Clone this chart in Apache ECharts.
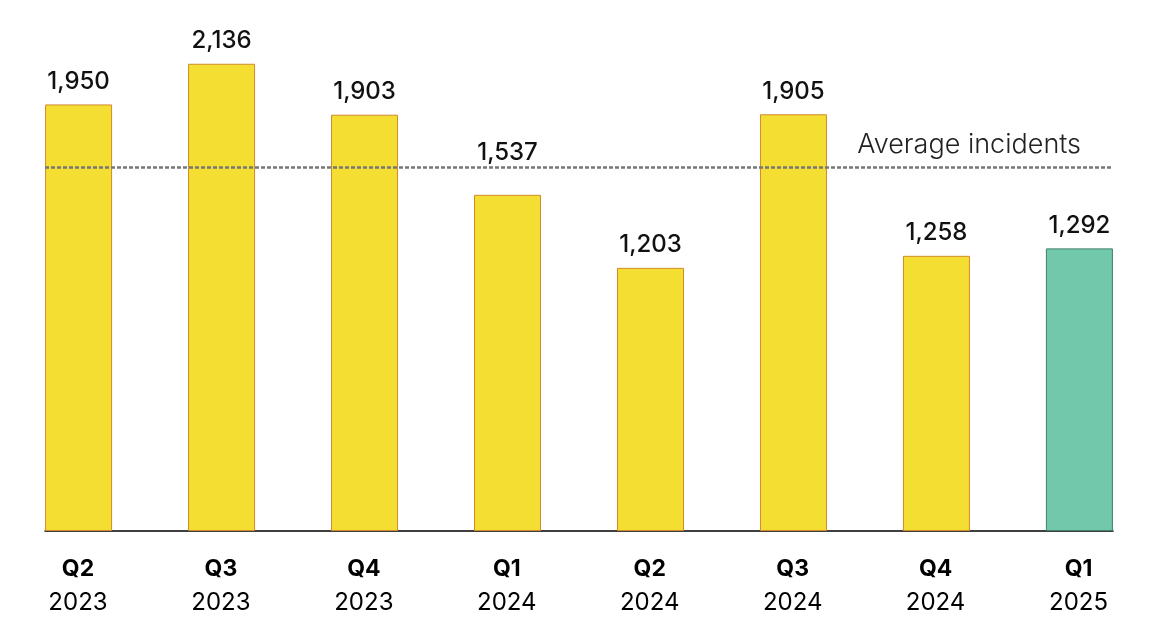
<!DOCTYPE html>
<html>
<head>
<meta charset="utf-8">
<script src="https://cdn.jsdelivr.net/npm/echarts@6/dist/echarts.min.js"></script>
<style>
  html, body { margin: 0; padding: 0; background: #fff; }
  #chart { width: 1175px; height: 638px; }
</style>
</head>
<body>
<div id="chart"></div>
<script>
// quarterly incidents
var quarters = ['Q2', 'Q3', 'Q4', 'Q1', 'Q2', 'Q3', 'Q4', 'Q1'];
var years = ['2023', '2023', '2023', '2024', '2024', '2024', '2024', '2025'];
var incidents = [1950, 2136, 1903, 1537, 1203, 1905, 1258, 1292];
var averageIncidents = 1665;
var averageLabel = 'Average incidents';

var FONT = 'Inter, "Noto Sans", sans-serif';
var yellow = '#F5DE32', yellowBorder = '#D08A2C';
var green = '#72C8AB', greenBorder = '#3F7F68';

var catLabels = quarters.map(function (q, i) { return q + '\n' + years[i]; });

var barData = incidents.map(function (v, i) {
  var last = i === incidents.length - 1;
  var item = {
    value: [i, v],
    itemStyle: {
      color: last ? green : yellow,
      borderColor: last ? greenBorder : yellowBorder
    }
  };
  // label pushed up when it would sit on the average line
  if (v < averageIncidents && v > averageIncidents - 200) {
    item.label = { distance: 30 };
  }
  return item;
});

var myChart = echarts.init(document.getElementById('chart'));
myChart.setOption({
  animation: false,
  grid: [
    // bars, baseline and average line
    { left: 45, right: 62, top: 6, bottom: 107 },
    // category labels under each bar
    { left: 6.5, right: 25, top: 6, bottom: 107 }
  ],
  xAxis: [
    {
      type: 'value', gridIndex: 0, min: -0.235, max: 7.235,
      axisLine: { show: true, lineStyle: { color: '#000', width: 1.5 } },
      axisTick: { show: false }, axisLabel: { show: false }, splitLine: { show: false }
    },
    {
      type: 'category', gridIndex: 1, data: catLabels,
      axisLine: { show: false }, axisTick: { show: false },
      axisLabel: {
        margin: 22,
        formatter: function (v) {
          var p = v.split('\n');
          return '{q|' + p[0] + '}\n{y|' + p[1] + '}';
        },
        rich: {
          q: { fontFamily: FONT, fontSize: 23, fontWeight: 'bold', color: '#000', lineHeight: 33 },
          y: { fontFamily: FONT, fontSize: 24, color: '#000', lineHeight: 33 }
        }
      }
    }
  ],
  yAxis: [
    { type: 'value', gridIndex: 0, min: 0, max: 2400, show: false },
    { type: 'value', gridIndex: 1, min: 0, max: 2400, show: false }
  ],
  series: [{
    type: 'bar',
    xAxisIndex: 0, yAxisIndex: 0,
    barWidth: 67,
    data: barData,
    itemStyle: { borderWidth: 1 },
    label: {
      show: true, position: 'top', distance: 11,
      fontFamily: FONT, fontSize: 24, fontWeight: 500, color: '#111',
      formatter: function (p) { return p.value[1].toLocaleString('en-US'); }
    },
    markLine: {
      silent: true, symbol: 'none', z: 10,
      lineStyle: { color: '#777', type: [4, 2], width: 2.5 },
      label: {
        show: true, position: 'insideEndTop', distance: 8,
        padding: [0, 24, 0, 0],
        fontFamily: FONT, fontSize: 27, fontWeight: 300, color: '#222',
        formatter: averageLabel
      },
      data: [{ yAxis: averageIncidents }]
    }
  }]
});
</script>
</body>
</html>
